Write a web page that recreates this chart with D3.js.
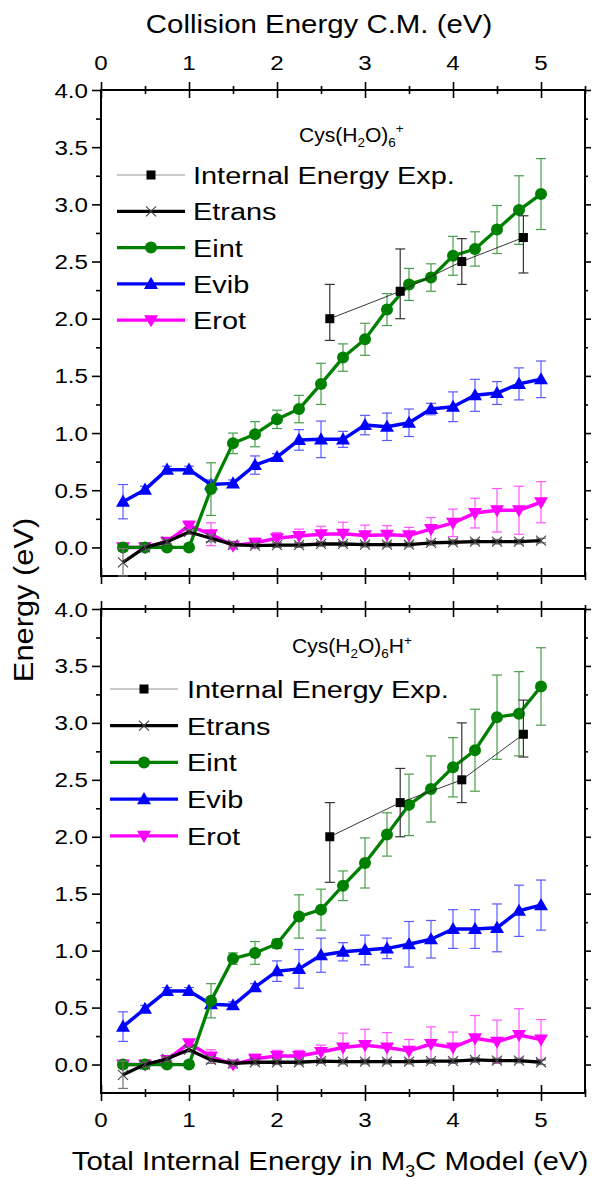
<!DOCTYPE html>
<html><head><meta charset="utf-8">
<script src="https://cdn.jsdelivr.net/npm/d3@7"></script>
<style>body{margin:0;background:#fff}svg{display:block}text{font-family:"Liberation Sans",Arial,sans-serif;fill:#000}</style>
</head><body><svg id="c" width="593" height="1180"></svg>
<script>
// ---- data ----
const xModel = [0.25,0.5,0.75,1.0,1.25,1.5,1.75,2.0,2.25,2.5,2.75,3.0,3.25,3.5,3.75,4.0,4.25,4.5,4.75,5.0];
const xExp = [2.6,3.4,4.1,4.8];
const xTicks = [0,1,2,3,4,5];
const yTicks = [0,0.5,1,1.5,2,2.5,3,3.5,4];
const legendLabels = ["Internal Energy Exp.","Etrans","Eint","Evib","Erot"];

// panel A: Cys(H2O)6+
const expA = [2.0,2.24,2.50,2.71];
const expAHi = [2.30,2.61,2.70,2.90];
const expALo = [1.81,2.00,2.30,2.40];
const etransA = [-0.13,0.0,0.05,0.135,0.08,0.025,0.015,0.02,0.02,0.03,0.03,0.025,0.025,0.025,0.04,0.045,0.05,0.05,0.05,0.06];
const etransAErr = [0.12,0.02,0.02,0.02,0.03,0.02,0.02,0.02,0.02,0.02,0.02,0.02,0.02,0.02,0.02,0.02,0.02,0.02,0.02,0.02];
const eintA = [0.0,0.0,0.0,0.0,0.51,0.91,0.99,1.12,1.21,1.43,1.66,1.82,2.08,2.30,2.36,2.55,2.61,2.78,2.95,3.09];
const eintAErr = [0.02,0.02,0.02,0.02,0.23,0.09,0.11,0.08,0.12,0.18,0.12,0.14,0.14,0.14,0.12,0.17,0.15,0.21,0.30,0.31];
const evibA = [0.40,0.505,0.68,0.68,0.55,0.56,0.72,0.79,0.94,0.945,0.945,1.07,1.055,1.09,1.21,1.23,1.33,1.35,1.43,1.47];
const evibAErr = [0.15,0.03,0.03,0.03,0.04,0.03,0.08,0.03,0.09,0.16,0.07,0.085,0.12,0.12,0.05,0.13,0.14,0.10,0.14,0.16];
const erotA = [0.0,0.0,0.05,0.19,0.115,0.015,0.04,0.08,0.10,0.115,0.12,0.105,0.11,0.105,0.16,0.215,0.30,0.325,0.325,0.395];
const erotAErr = [0.03,0.02,0.03,0.04,0.10,0.03,0.04,0.05,0.06,0.07,0.10,0.09,0.08,0.07,0.10,0.12,0.13,0.19,0.21,0.18];

// panel B: Cys(H2O)6H+
const expB = [2.0,2.30,2.50,2.90];
const expBHi = [2.30,2.60,3.00,3.20];
const expBLo = [1.60,2.00,2.30,2.70];
const etransB = [-0.09,0.0,0.05,0.13,0.04,0.01,0.02,0.02,0.02,0.03,0.025,0.025,0.025,0.025,0.03,0.03,0.04,0.035,0.035,0.02];
const etransBErr = [0.12,0.02,0.02,0.02,0.03,0.02,0.02,0.02,0.02,0.02,0.02,0.02,0.02,0.02,0.02,0.02,0.02,0.02,0.02,0.02];
const eintB = [0.0,0.0,0.0,0.0,0.56,0.93,0.98,1.06,1.30,1.36,1.57,1.77,2.02,2.28,2.42,2.61,2.76,3.05,3.08,3.32];
const eintBErr = [0.02,0.02,0.02,0.02,0.15,0.05,0.10,0.04,0.19,0.18,0.13,0.22,0.19,0.27,0.29,0.26,0.36,0.37,0.37,0.34];
const evibB = [0.333,0.49,0.646,0.646,0.53,0.52,0.68,0.82,0.84,0.96,0.99,1.006,1.02,1.056,1.10,1.19,1.19,1.20,1.35,1.40];
const evibBErr = [0.13,0.03,0.03,0.03,0.03,0.03,0.03,0.09,0.17,0.15,0.08,0.13,0.09,0.20,0.165,0.17,0.17,0.21,0.225,0.22];
const erotB = [0.0,0.0,0.04,0.187,0.07,0.0,0.05,0.075,0.075,0.11,0.15,0.17,0.15,0.12,0.18,0.15,0.23,0.20,0.26,0.22];
const erotBErr = [0.03,0.02,0.03,0.03,0.06,0.03,0.04,0.05,0.05,0.06,0.125,0.14,0.13,0.10,0.15,0.135,0.20,0.19,0.23,0.175];

// ---- drawing ----
const svg = d3.select("#c");
const X0 = 101, X1 = 585;
const x = d3.scaleLinear().domain([0,5.5]).range([X0,X1]);
const colors = {exp:"#000", trans:"#000", int:"#008000", vib:"#0000ff", rot:"#ff00ff"};
const errColors = {exp:"#333", trans:"#777", int:"#4a9e4a", vib:"#5a5aff", rot:"#ff55ff"};

function txt(g, s, tx, ty, size, sx, anchor){
  return g.append("text").attr("transform",`translate(${tx},${ty}) scale(${sx},1)`)
    .attr("font-size",size).attr("text-anchor",anchor||"start").text(s);
}

function panel(cfg){
  const y = d3.scaleLinear().domain([-0.25,4]).range([cfg.bottom,cfg.top]);
  const g = svg.append("g");
  const yMinor = d3.range(-0.25,4.01,0.5).filter(v=>v>-0.2);
  const xMinor = d3.range(0.5,5.51,1);

  const axL = d3.axisLeft(y).tickValues(yTicks).tickSize(9).tickFormat("");
  const axLm = d3.axisLeft(y).tickValues(yMinor).tickSize(5).tickFormat("");
  const axR = d3.axisLeft(y).tickValues(yTicks).tickSize(-6).tickFormat("");
  const axRm = d3.axisLeft(y).tickValues(yMinor).tickSize(-3).tickFormat("");
  [axL,axLm].forEach(a=>g.append("g").attr("transform",`translate(${X0},0)`).call(a));
  [axR,axRm].forEach(a=>g.append("g").attr("transform",`translate(${X1},0)`).call(a));
  [cfg.top,cfg.bottom].forEach(yy=>{
    g.append("g").attr("transform",`translate(0,${yy-8})`).call(d3.axisBottom(x).tickValues(xTicks).tickSize(16).tickFormat(""));
    g.append("g").attr("transform",`translate(0,${yy-4})`).call(d3.axisBottom(x).tickValues(xMinor).tickSize(8).tickFormat(""));
  });
  g.selectAll(".domain").remove();
  g.selectAll(".tick line").attr("stroke","#000").attr("stroke-width",1.6);
  g.append("rect").attr("x",X0).attr("y",cfg.top).attr("width",X1-X0).attr("height",cfg.bottom-cfg.top)
    .attr("fill","none").attr("stroke","#000").attr("stroke-width",2);

  yTicks.forEach(v=>{
    txt(g, d3.format(".1f")(v), 88, y(v)+7.5, 21, 1.15, "end");
  });
  if(cfg.topLabels) xTicks.forEach(v=>txt(g, String(v), x(v), cfg.top-20, 21, 1.15, "middle"));
  if(cfg.bottomLabels) xTicks.forEach(v=>txt(g, String(v), x(v), cfg.bottom+34, 21, 1.15, "middle"));

  const t = g.append("text").attr("transform",`translate(${cfg.titleX},${cfg.titleY}) scale(1.08,1)`).attr("font-size",19.5);
  t.append("tspan").text("Cys(H");
  t.append("tspan").attr("font-size",12.5).attr("dy",5).text("2");
  t.append("tspan").attr("dy",-5).text("O)");
  t.append("tspan").attr("font-size",12.5).attr("dy",5).text("6");
  if(cfg.suffixH){ t.append("tspan").attr("dy",-5).text("H"); t.append("tspan").attr("font-size",12.5).attr("dy",-8).text("+"); }
  else { t.append("tspan").attr("font-size",12.5).attr("dy",-14).text("+"); }

  const plot = g.append("g");
  const line = d3.line().x(d=>x(d[0])).y(d=>y(d[1]));
  function errbars(xs, lo, hi, col){
    xs.forEach((xv,i)=>{
      const px = x(xv);
      plot.append("line").attr("x1",px).attr("x2",px).attr("y1",y(lo[i])).attr("y2",y(hi[i])).attr("stroke",col).attr("stroke-width",1.2);
      [lo[i],hi[i]].forEach(v=>plot.append("line").attr("x1",px-5).attr("x2",px+5).attr("y1",y(v)).attr("y2",y(v)).attr("stroke",col).attr("stroke-width",1.2));
    });
  }
  function series(vals, errs, key, marker, lw){
    errbars(xModel, vals.map((v,i)=>v-errs[i]), vals.map((v,i)=>v+errs[i]), errColors[key]);
    plot.append("path").attr("d",line(xModel.map((xv,i)=>[xv,vals[i]]))).attr("fill","none")
      .attr("stroke",colors[key]).attr("stroke-width",lw).attr("stroke-linejoin","round");
    xModel.forEach((xv,i)=>marker(plot, x(xv), y(vals[i])));
  }
  series(cfg.erot, cfg.erotErr, "rot", mDown, 3.5);
  series(cfg.evib, cfg.evibErr, "vib", mUp, 3.5);
  series(cfg.eint, cfg.eintErr, "int", mCircle, 3.3);
  series(cfg.etrans, cfg.etransErr, "trans", mCross, 3.3);
  errbars(xExp, cfg.expLo, cfg.expHi, errColors.exp);
  plot.append("path").attr("d",line(xExp.map((xv,i)=>[xv,cfg.exp[i]]))).attr("fill","none").attr("stroke","#222").attr("stroke-width",0.9);
  xExp.forEach((xv,i)=>mSquare(plot, x(xv), y(cfg.exp[i])));

  const L = cfg.legend;
  const lg = g.append("g");
  const lkeys = [["exp",mSquare,0.9,"#888"],["trans",mCross,3.3,"#000"],["int",mCircle,3.3,colors.int],["vib",mUp,3.3,colors.vib],["rot",mDown,3.3,colors.rot]];
  lkeys.forEach((k,i)=>{
    const yy = L.y0 + i*L.dy;
    lg.append("line").attr("x1",L.x1).attr("x2",L.x2).attr("y1",yy).attr("y2",yy).attr("stroke",k[3]).attr("stroke-width",k[2]);
    k[1](lg,(L.x1+L.x2)/2,yy);
    txt(lg, legendLabels[i], L.tx, yy+9, 24.5, 1.18, "start");
  });
}

function mCircle(g,cx,cy){ g.append("circle").attr("cx",cx).attr("cy",cy).attr("r",6).attr("fill",colors.int); }
function mUp(g,cx,cy){ g.append("path").attr("d",d3.symbol(d3.symbolTriangle,85)()).attr("transform",`translate(${cx},${cy+1})`).attr("fill",colors.vib); }
function mDown(g,cx,cy){ g.append("path").attr("d",d3.symbol(d3.symbolTriangle,85)()).attr("transform",`translate(${cx},${cy-1}) rotate(180)`).attr("fill",colors.rot); }
function mSquare(g,cx,cy){ g.append("rect").attr("x",cx-4.5).attr("y",cy-4.5).attr("width",9).attr("height",9).attr("fill","#000"); }
function mCross(g,cx,cy){
  g.append("path").attr("d",`M${cx-5},${cy-5}L${cx+5},${cy+5}M${cx-5},${cy+5}L${cx+5},${cy-5}`)
    .attr("stroke","#444").attr("stroke-width",1.1).attr("fill","none");
}

panel({top:90,bottom:576,topLabels:true,bottomLabels:false,titleX:299,titleY:142,suffixH:false,
  exp:expA,expHi:expAHi,expLo:expALo,etrans:etransA,etransErr:etransAErr,eint:eintA,eintErr:eintAErr,
  evib:evibA,evibErr:evibAErr,erot:erotA,erotErr:erotAErr,legend:{x1:117,x2:185,tx:193,y0:175,dy:36.3}});
panel({top:609,bottom:1093,topLabels:false,bottomLabels:true,titleX:292,titleY:653,suffixH:true,
  exp:expB,expHi:expBHi,expLo:expBLo,etrans:etransB,etransErr:etransBErr,eint:eintB,eintErr:eintBErr,
  evib:evibB,evibErr:evibBErr,erot:erotB,erotErr:erotBErr,legend:{x1:110,x2:178,tx:187,y0:689,dy:36.7}});

txt(svg, "Collision Energy C.M. (eV)", 319, 33, 26.5, 1.11, "middle");
const bt = svg.append("text").attr("transform","translate(330,1170) scale(1.11,1)").attr("font-size",26.5).attr("text-anchor","middle");
bt.append("tspan").text("Total Internal Energy in M");
bt.append("tspan").attr("font-size",16).attr("dy",7).text("3");
bt.append("tspan").attr("dy",-7).text("C Model (eV)");
svg.append("text").attr("transform","translate(33,600) rotate(-90) scale(1.1,1)").attr("font-size",28).attr("text-anchor","middle").text("Energy (eV)");
</script></body></html>
